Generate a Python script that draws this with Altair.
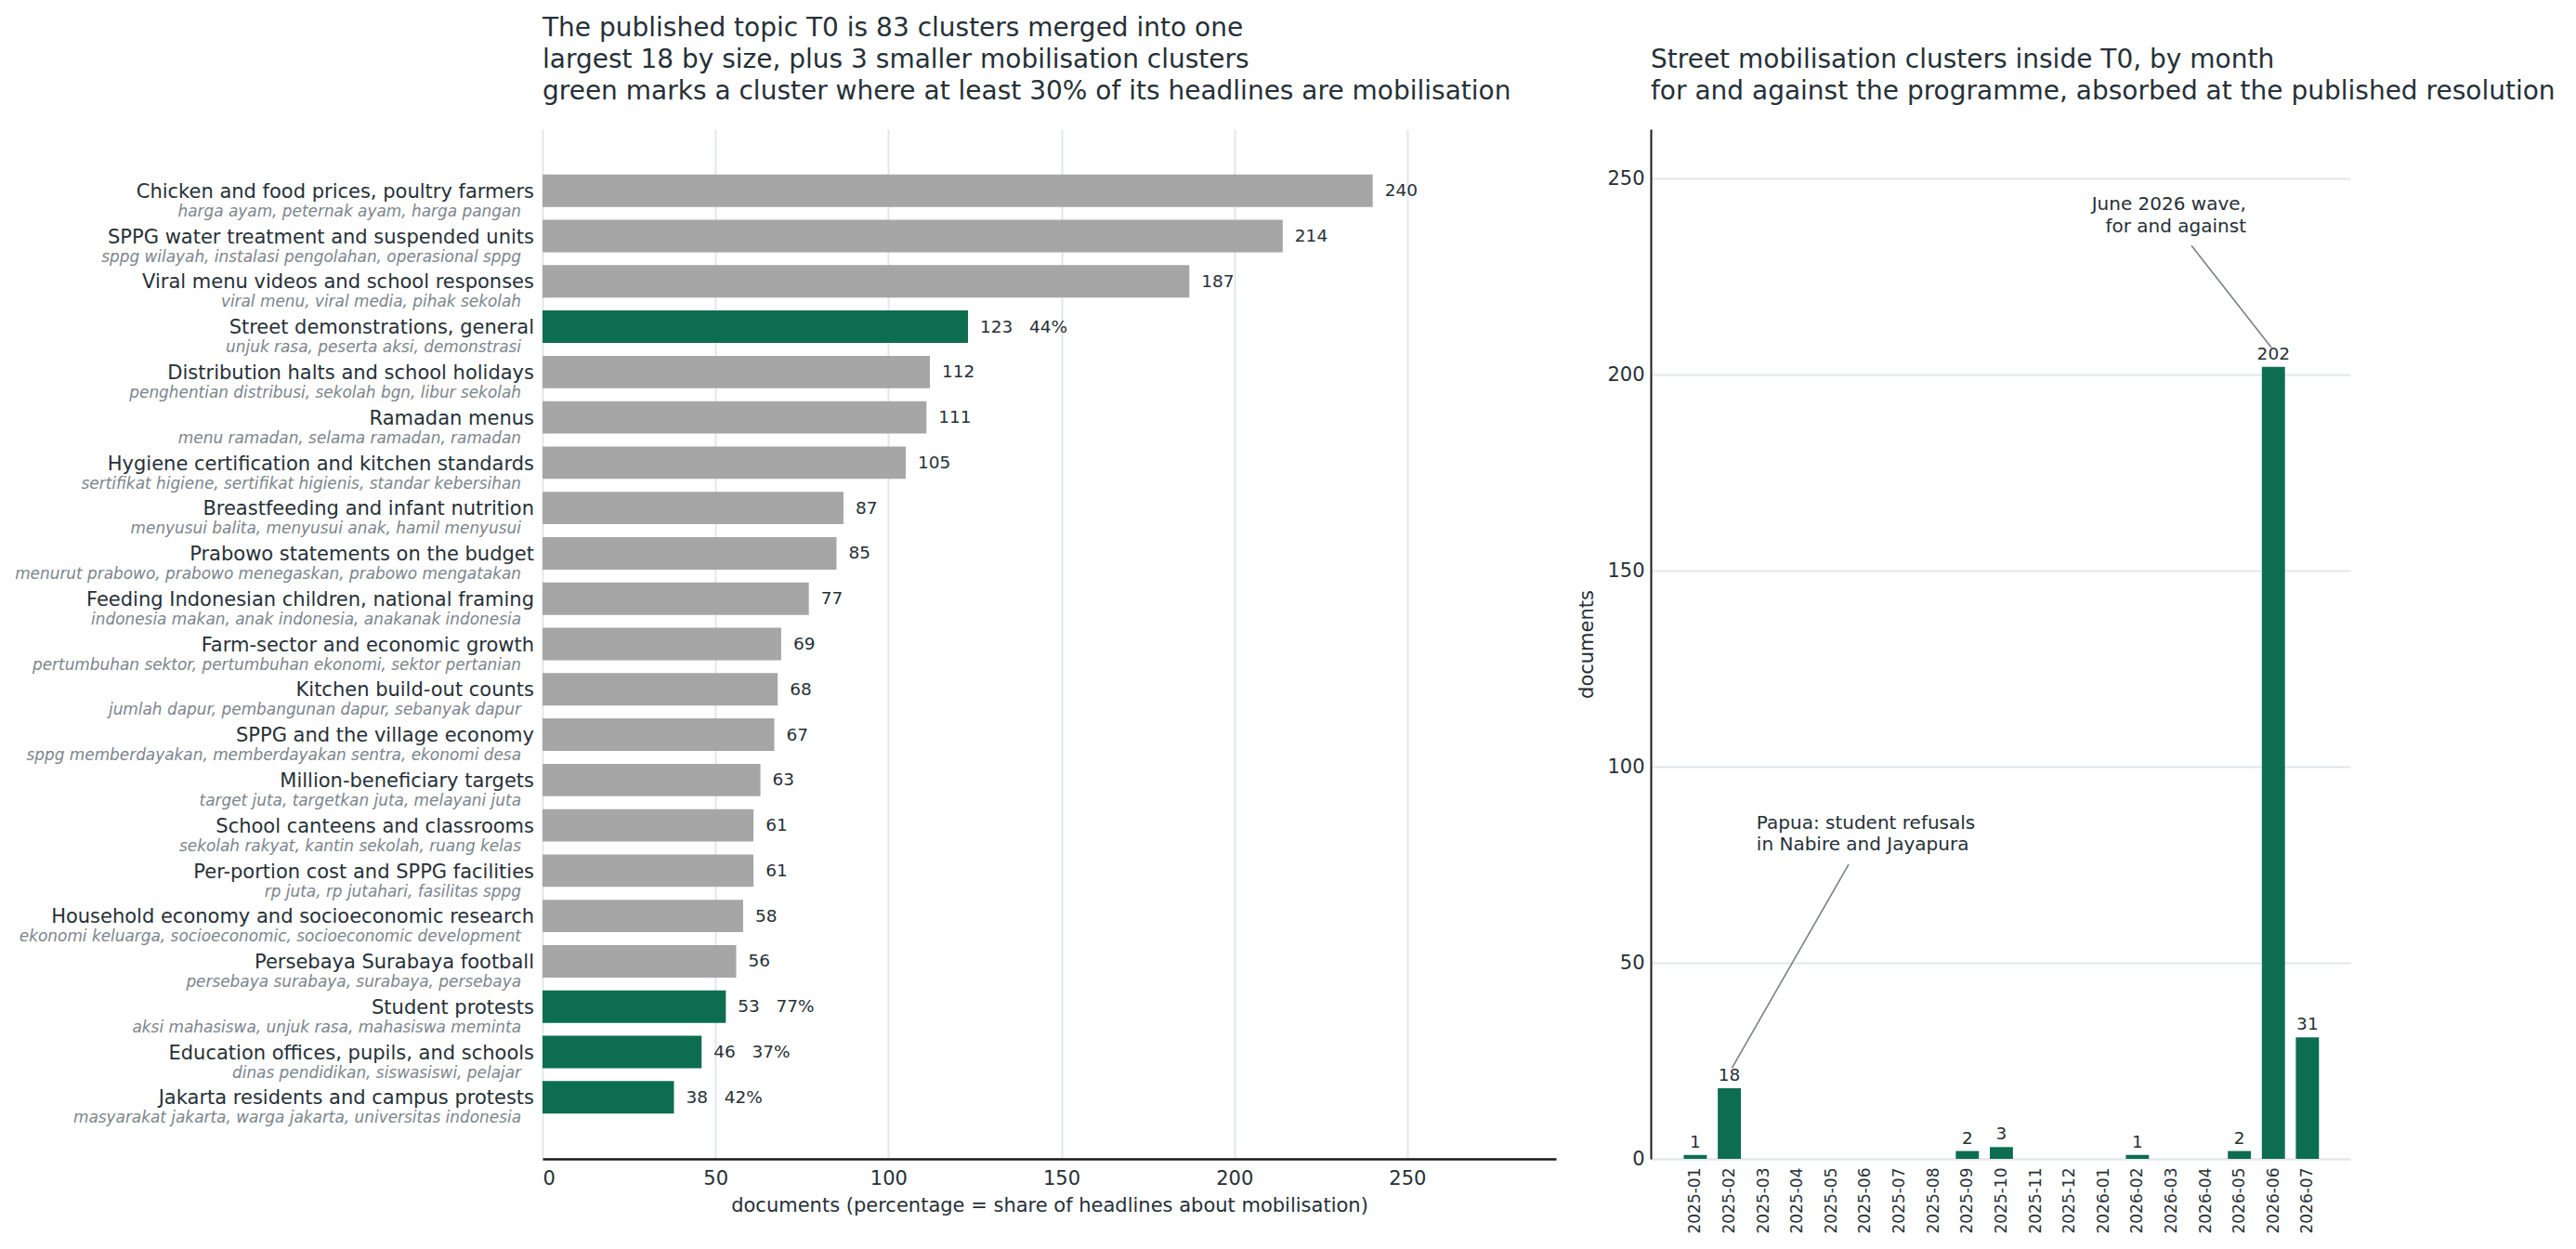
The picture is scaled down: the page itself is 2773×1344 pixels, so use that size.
import altair as alt
import pandas as pd

# ---------------- data ----------------
labels = [
    "Chicken and food prices, poultry farmers",
    "SPPG water treatment and suspended units",
    "Viral menu videos and school responses",
    "Street demonstrations, general",
    "Distribution halts and school holidays",
    "Ramadan menus",
    "Hygiene certification and kitchen standards",
    "Breastfeeding and infant nutrition",
    "Prabowo statements on the budget",
    "Feeding Indonesian children, national framing",
    "Farm-sector and economic growth",
    "Kitchen build-out counts",
    "SPPG and the village economy",
    "Million-beneficiary targets",
    "School canteens and classrooms",
    "Per-portion cost and SPPG facilities",
    "Household economy and socioeconomic research",
    "Persebaya Surabaya football",
    "Student protests",
    "Education offices, pupils, and schools",
    "Jakarta residents and campus protests",
]
keywords = [
    "harga ayam, peternak ayam, harga pangan",
    "sppg wilayah, instalasi pengolahan, operasional sppg",
    "viral menu, viral media, pihak sekolah",
    "unjuk rasa, peserta aksi, demonstrasi",
    "penghentian distribusi, sekolah bgn, libur sekolah",
    "menu ramadan, selama ramadan, ramadan",
    "sertifikat higiene, sertifikat higienis, standar kebersihan",
    "menyusui balita, menyusui anak, hamil menyusui",
    "menurut prabowo, prabowo menegaskan, prabowo mengatakan",
    "indonesia makan, anak indonesia, anakanak indonesia",
    "pertumbuhan sektor, pertumbuhan ekonomi, sektor pertanian",
    "jumlah dapur, pembangunan dapur, sebanyak dapur",
    "sppg memberdayakan, memberdayakan sentra, ekonomi desa",
    "target juta, targetkan juta, melayani juta",
    "sekolah rakyat, kantin sekolah, ruang kelas",
    "rp juta, rp jutahari, fasilitas sppg",
    "ekonomi keluarga, socioeconomic, socioeconomic development",
    "persebaya surabaya, surabaya, persebaya",
    "aksi mahasiswa, unjuk rasa, mahasiswa meminta",
    "dinas pendidikan, siswasiswi, pelajar",
    "masyarakat jakarta, warga jakarta, universitas indonesia",
]
docs = [240, 214, 187, 123, 112, 111, 105, 87, 85, 77, 69, 68, 67, 63, 61, 61, 58, 56, 53, 46, 38]
mob_share = [None, None, None, 44, None, None, None, None, None, None, None,
             None, None, None, None, None, None, None, 77, 37, 42]

months = ["2025-01", "2025-02", "2025-03", "2025-04", "2025-05", "2025-06", "2025-07",
          "2025-08", "2025-09", "2025-10", "2025-11", "2025-12", "2026-01", "2026-02",
          "2026-03", "2026-04", "2026-05", "2026-06", "2026-07"]
month_docs = [1, 18, 0, 0, 0, 0, 0, 0, 2, 3, 0, 0, 0, 1, 0, 0, 2, 202, 31]

left_title = [
    "The published topic T0 is 83 clusters merged into one",
    "largest 18 by size, plus 3 smaller mobilisation clusters",
    "green marks a cluster where at least 30% of its headlines are mobilisation",
]
right_title = [
    "Street mobilisation clusters inside T0, by month",
    "for and against the programme, absorbed at the published resolution",
]

# annotations (month index, documents)
papua_text = "Papua: student refusals\nin Nabire and Jayapura"
papua_pos = [1.80, 84.2]
papua_line = [4.51, 75.1, 1.08, 23.2]
june_text = "June 2026 wave,\nfor and against"
june_pos = [16.2, 241.9]
june_line = [14.59, 232.9, 16.94, 206.9]

# ---------------- styles ----------------
GREEN = "#0c6e4f"
GREY = "#a6a6a6"
TXT = "#263037"
SUB = "#7b848c"
GRID = "#e3e6ea"
LINE = "#7a8086"
FONT = "DejaVu Sans"
NBSP = "\u00a0"

# ---------------- left panel ----------------
left_df = pd.DataFrame({"label": labels, "kw": keywords, "docs": docs})
left_df["kind"] = ["mob" if s is not None else "other" for s in mob_share]
left_df["vlabel"] = [f"{d}{NBSP * 3}{s}%" if s is not None else f"{d}" for d, s in zip(docs, mob_share)]

y_left = alt.Y("label:N", sort=labels, axis=None,
               scale=alt.Scale(paddingInner=0.285, paddingOuter=1.0))
x_left = alt.X(
    "docs:Q",
    scale=alt.Scale(domain=[0, 293], nice=False, zero=True),
    axis=alt.Axis(
        values=[0, 50, 100, 150, 200, 250],
        title="documents (percentage = share of headlines about mobilisation)",
        grid=True, gridColor=GRID, gridWidth=2,
        domainColor="#1a1a1a", domainWidth=2.5,
        ticks=False, labelPadding=10, labelFontSize=21, labelColor=TXT,
        titleFontSize=21, titleFontWeight="normal", titlePadding=8, titleColor=TXT,
    ),
)

bars = alt.Chart(left_df).mark_bar().encode(
    x=x_left, y=y_left,
    color=alt.Color("kind:N", scale=alt.Scale(domain=["other", "mob"], range=[GREY, GREEN]), legend=None),
)
vals = alt.Chart(left_df).mark_text(
    align="left", baseline="middle", dx=13, fontSize=18.5, color=TXT
).encode(x="docs:Q", y=y_left, text="vlabel:N")
names = alt.Chart(left_df).mark_text(
    align="right", baseline="alphabetic", dy=7.7, fontSize=21, color=TXT
).encode(x=alt.value(-9), y=y_left, text="label:N")
kws = alt.Chart(left_df).mark_text(
    align="right", baseline="alphabetic", dy=27.7, fontSize=16.9, fontStyle="italic", color=SUB
).encode(x=alt.value(-23), y=y_left, text="kw:N")

left = alt.layer(bars, vals, names, kws).properties(
    width=1091, height=1108,
    title=alt.TitleParams(text=left_title, anchor="start", frame="group", fontSize=28,
                          fontWeight="normal", lineHeight=34, offset=26, color=TXT),
)

# ---------------- right panel ----------------
right_df = pd.DataFrame({"month": months, "docs": month_docs})
right_df["i"] = list(range(len(months)))
nz = right_df[right_df["docs"] > 0]

label_expr = "[" + ",".join(f"'{m}'" for m in months) + "][datum.value]"
x_right = alt.X(
    "x0:Q",
    scale=alt.Scale(domain=[-1.31, 19.26], nice=False, zero=False),
    axis=alt.Axis(values=list(range(len(months))), labelExpr=label_expr, title=None,
                  grid=False, ticks=False, labelAngle=270, labelPadding=9,
                  labelFontSize=17, labelColor=TXT, domainColor=GRID, domainWidth=2),
)
y_right = alt.Y(
    "docs:Q",
    scale=alt.Scale(domain=[0, 262.6], nice=False),
    axis=alt.Axis(values=[0, 50, 100, 150, 200, 250], title="documents",
                  grid=True, gridColor=GRID, gridWidth=2,
                  domainColor="#1a1a1a", domainWidth=2,
                  ticks=False, labelPadding=7, labelFontSize=21, labelColor=TXT,
                  titleFontSize=21, titleFontWeight="normal", titlePadding=11, titleColor=TXT),
)

rbars = alt.Chart(nz).transform_calculate(
    x0="datum.i - 0.34", x1="datum.i + 0.34"
).mark_bar(color=GREEN).encode(x=x_right, x2="x1:Q", y=y_right, y2=alt.datum(0))

rvals = alt.Chart(nz).mark_text(
    baseline="alphabetic", dy=-8, fontSize=18.5, color=TXT
).encode(x="i:Q", y="docs:Q", text="docs:Q")

ann_df = pd.DataFrame({
    "tx": [papua_pos[0], june_pos[0]],
    "ty": [papua_pos[1], june_pos[1]],
    "t": [papua_text, june_text],
    "lx": [papua_line[0], june_line[0]],
    "ly": [papua_line[1], june_line[1]],
    "lx2": [papua_line[2], june_line[2]],
    "ly2": [papua_line[3], june_line[3]],
})

ann_lines = alt.Chart(ann_df).mark_rule(color=LINE, strokeWidth=1.6).encode(
    x="lx:Q", x2="lx2:Q", y="ly:Q", y2="ly2:Q"
)
ann_papua = alt.Chart(ann_df.iloc[[0]]).mark_text(
    align="left", baseline="alphabetic", lineBreak="\n", lineHeight=23.5, fontSize=20, color=TXT
).encode(x="tx:Q", y="ty:Q", text="t:N")
ann_june = alt.Chart(ann_df.iloc[[1]]).mark_text(
    align="right", baseline="alphabetic", lineBreak="\n", lineHeight=23.5, fontSize=20, color=TXT
).encode(x="tx:Q", y="ty:Q", text="t:N")

right = alt.layer(rbars, rvals, ann_lines, ann_papua, ann_june).properties(
    width=753, height=1108,
    title=alt.TitleParams(text=right_title, anchor="start", frame="group", fontSize=28,
                          fontWeight="normal", lineHeight=34, offset=26, color=TXT),
)

chart = alt.hconcat(left, right, spacing=102, bounds="flush").properties(
    padding={"left": 8, "top": 9, "right": 5, "bottom": 5}
).configure(font=FONT).configure_view(stroke=None)

chart.save("out.html", embed_options={"renderer": "svg", "actions": False})
